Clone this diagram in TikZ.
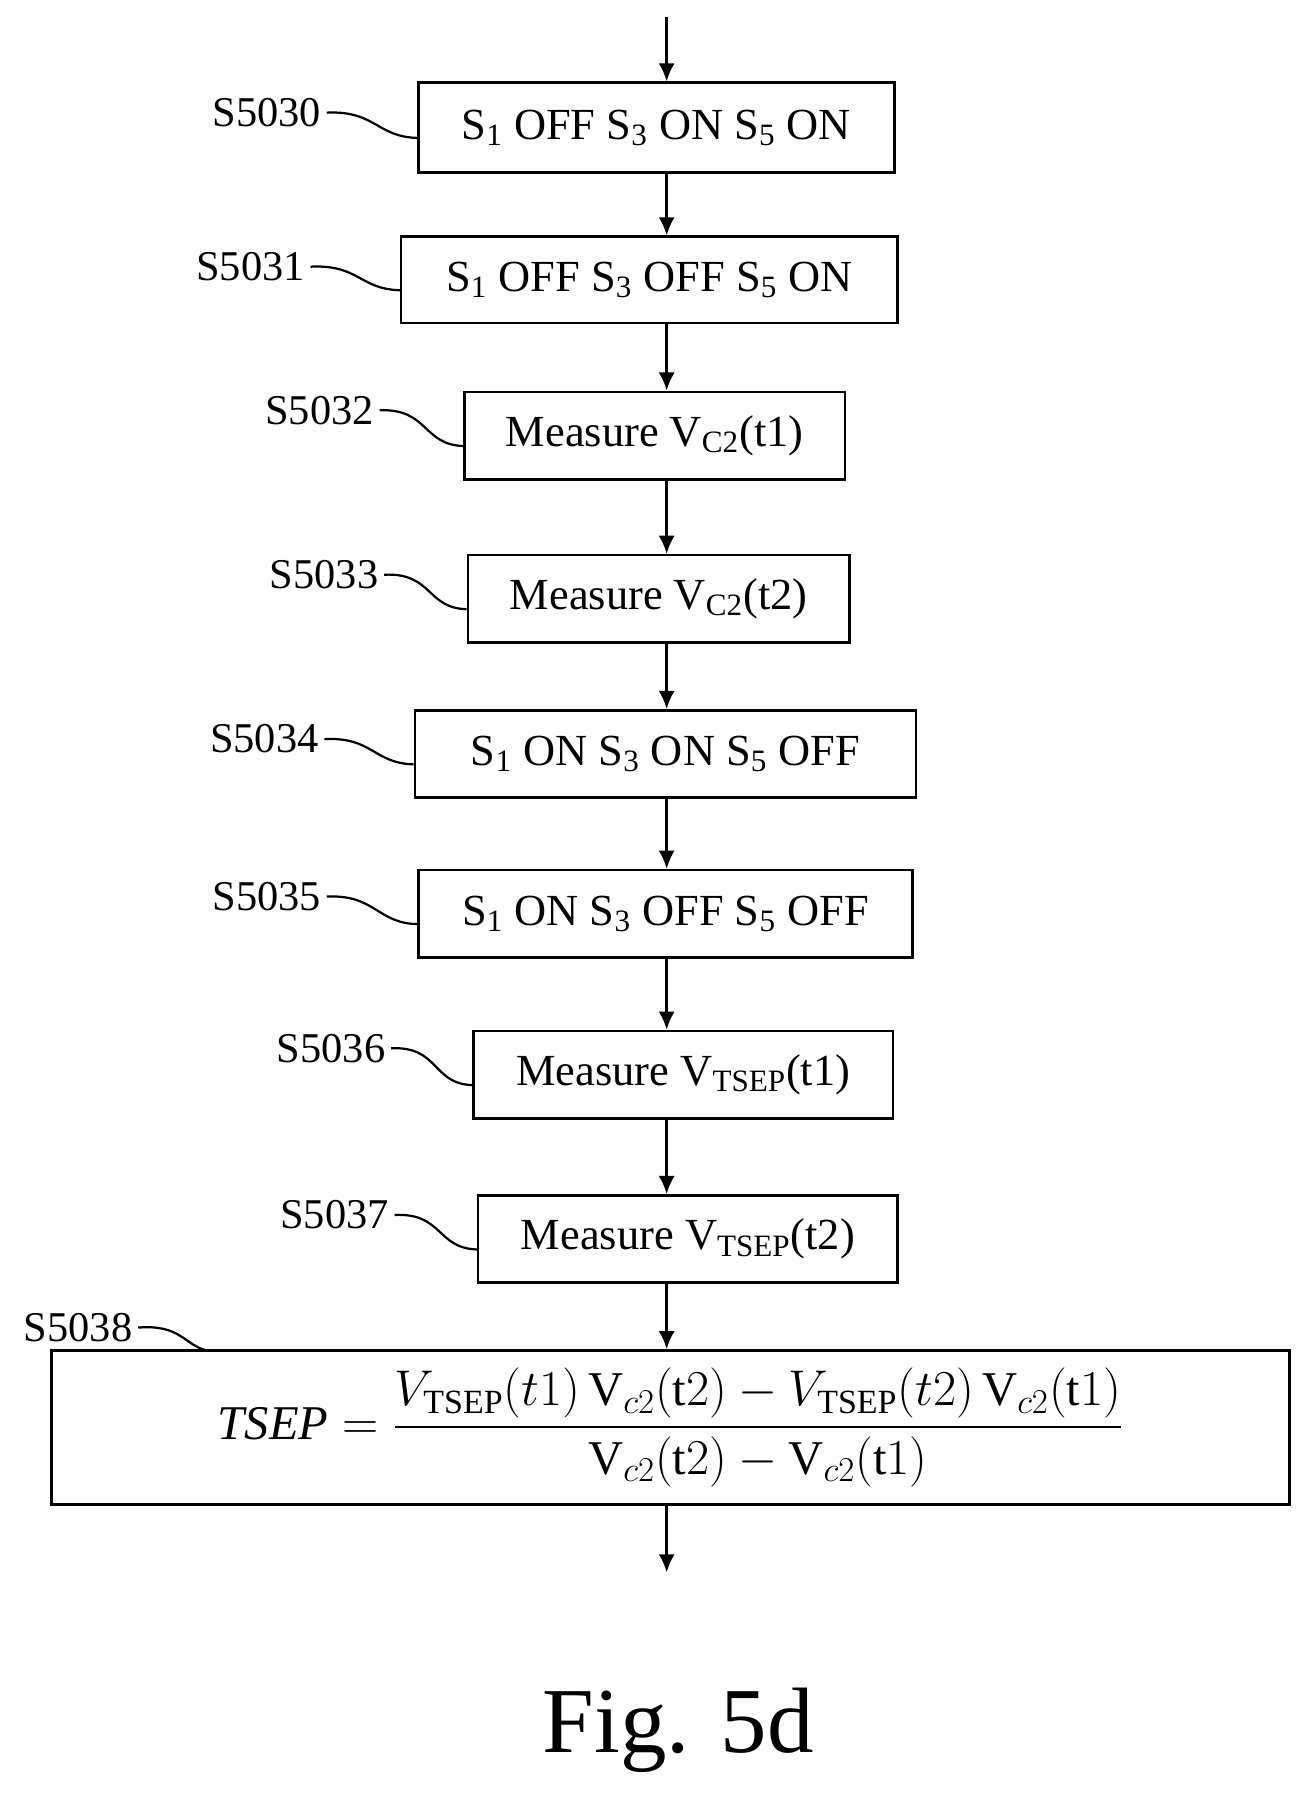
\documentclass[tikz,border=0pt]{standalone}
\usepackage{amsmath}
\usepackage{fontspec}
\setmainfont{Liberation Serif}
\usetikzlibrary{calc,arrows.meta}
\begin{document}
\begin{tikzpicture}[x=0.02cm,y=-0.02cm,
  box/.style={draw,line width=1.3pt,inner sep=0pt,font=\fontsize{22}{26}\selectfont},
  lab/.style={font=\fontsize{21}{25}\selectfont,inner sep=1pt},
  arr/.style={line width=1.3pt,-{Latex[length=9pt,width=8pt]}},
  lead/.style={line width=1.1pt}]
\useasboundingbox (0,0) rectangle (1141,1566);
\newcommand{\bx}[6]{\node[box,minimum width=#3*0.02cm,minimum height=#4*0.02cm] (#1) at (#2,#5) {#6};}
\bx{b0}{571}{414}{78}{111}{S\textsubscript{1} OFF S\textsubscript{3} ON S\textsubscript{5} ON}
\bx{b1}{565}{432}{75}{243.5}{S\textsubscript{1} OFF S\textsubscript{3} OFF S\textsubscript{5} ON}
\bx{b2}{569.5}{331}{76}{379}{Measure V\textsubscript{C2}(t1)}
\bx{b3}{573}{332}{76}{521}{Measure V\textsubscript{C2}(t2)}
\bx{b4}{579}{436}{76}{656}{S\textsubscript{1} ON S\textsubscript{3} ON S\textsubscript{5} OFF}
\bx{b5}{579}{430}{76}{795}{S\textsubscript{1} ON S\textsubscript{3} OFF S\textsubscript{5} OFF}
\bx{b6}{594.5}{365}{76}{935}{Measure V\textsubscript{TSEP}(t1)}
\bx{b7}{598.5}{365}{76}{1078}{Measure V\textsubscript{TSEP}(t2)}
\node[draw,line width=1.3pt,inner sep=0pt,minimum width=1077*0.02cm,minimum height=134*0.02cm,font=\fontsize{24}{28}\selectfont] (b8) at (583.5,1242) {$\mathit{TSEP}=\dfrac{V_{\mathrm{TSEP}}(t1)\,\mathrm{V}_{c2}(\mathrm{t}2)-V_{\mathrm{TSEP}}(t2)\,\mathrm{V}_{c2}(\mathrm{t}1)}{\mathrm{V}_{c2}(\mathrm{t}2)-\mathrm{V}_{c2}(\mathrm{t}1)}$};
\coordinate (top) at (580,15);
\coordinate (bot) at (580,1368);
\draw[arr] (top) -- (b0.north -| top);
\draw[arr] (b0.south -| top) -- (b1.north -| top);
\draw[arr] (b1.south -| top) -- (b2.north -| top);
\draw[arr] (b2.south -| top) -- (b3.north -| top);
\draw[arr] (b3.south -| top) -- (b4.north -| top);
\draw[arr] (b4.south -| top) -- (b5.north -| top);
\draw[arr] (b5.south -| top) -- (b6.north -| top);
\draw[arr] (b6.south -| top) -- (b7.north -| top);
\draw[arr] (b7.south -| top) -- (b8.north -| top);
\draw[arr] (b8.south -| top) -- (bot);
\foreach \n/\t/\x/\y in {b0/S5030/232/98,b1/S5031/218/232,b2/S5032/278/357,b3/S5033/282/500,b4/S5034/230/643,b5/S5035/232/780,b6/S5036/288/912,b7/S5037/291/1057}{
  \node[lab] (l\n) at (\x,\y) {\t};
  \draw[lead] ($(l\n.east)+(3,0)$) .. controls ($(l\n.east)+(45,-2)$) and ($(\n.west)+(-35,8)$) .. ($(\n.west)+(0,9)$);
}
\node[lab] (lb8) at (68,1155) {S5038};
\draw[lead] ($(lb8.east)+(3,0)$) .. controls ($(lb8.east)+(40,-3)$) and (160,1170) .. (180,1175);
\node[font=\fontsize{46}{52}\selectfont] (fig) at (590,1505) {Fig. 5d};
\end{tikzpicture}
\end{document}
